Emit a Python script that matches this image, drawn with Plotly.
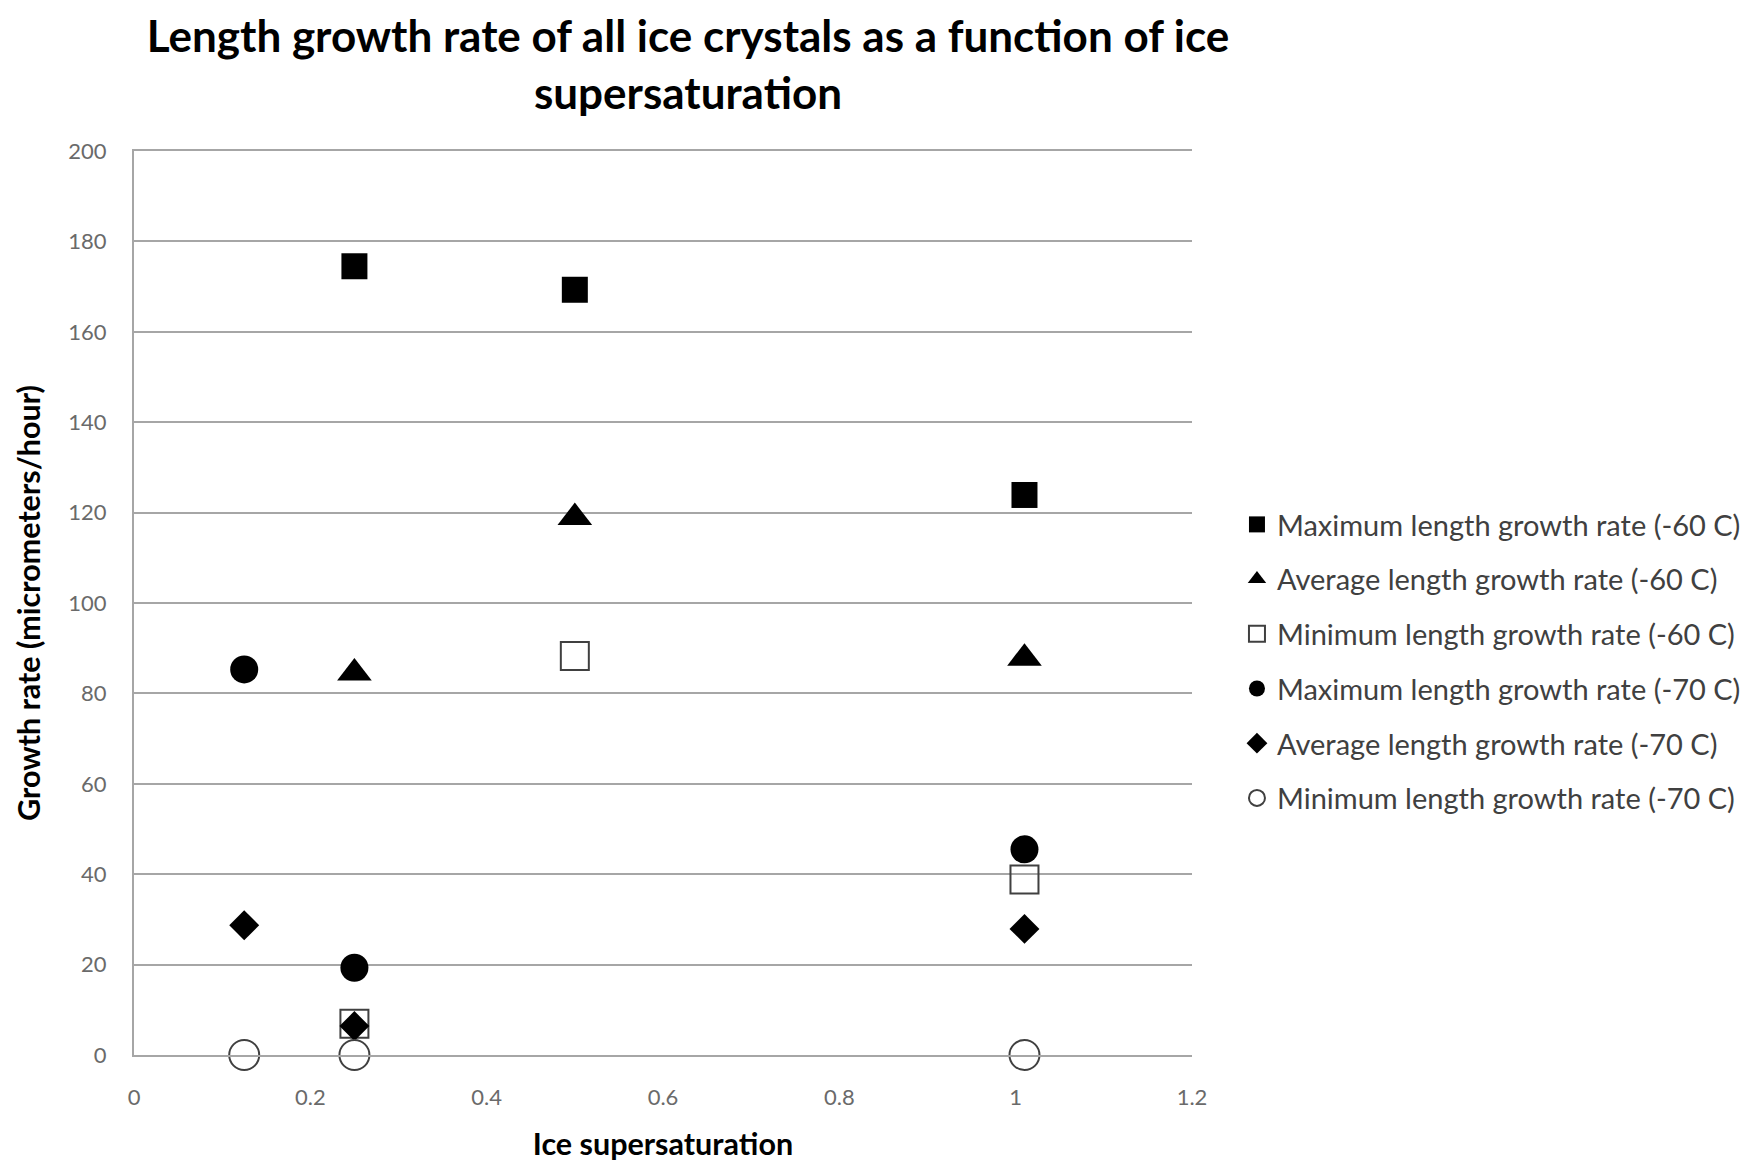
import plotly.graph_objects as go

# Data
x_max60 = [0.25, 0.5, 1.01]
y_max60 = [174.5, 169.3, 123.9]

x_avg60 = [0.25, 0.5, 1.01]
y_avg60 = [84.5, 118.9, 87.8]

x_min60 = [0.25, 0.5, 1.01]
y_min60 = [6.9, 88.3, 38.8]

x_max70 = [0.125, 0.25, 1.01]
y_max70 = [85.3, 19.3, 45.5]

x_avg70 = [0.125, 0.25, 1.01]
y_avg70 = [28.7, 6.4, 27.9]

x_min70 = [0.125, 0.25, 1.01]
y_min70 = [0, 0, 0]

names = [
    "Maximum length growth rate (-60 C)",
    "Average length growth rate (-60 C)",
    "Minimum length growth rate (-60 C)",
    "Maximum length growth rate (-70 C)",
    "Average length growth rate (-70 C)",
    "Minimum length growth rate (-70 C)",
]

x_ticks = [0, 0.2, 0.4, 0.6, 0.8, 1, 1.2]
x_ticktext = ["0", "0.2", "0.4", "0.6", "0.8", "1", "1.2"]
y_ticks = [0, 20, 40, 60, 80, 100, 120, 140, 160, 180, 200]

FONT = "Lato"
GRID = "#a6a6a6"
W, H = 1737, 1153  # page body adds an 8px margin

series = [
    (x_max60, y_max60, dict(symbol="square", size=26, color="black")),
    (x_avg60, y_avg60, dict(symbol="triangle-up", size=30, color="black")),
    (x_min60, y_min60, dict(symbol="square-open", size=28, color="#404040", line=dict(width=2, color="#404040"))),
    (x_max70, y_max70, dict(symbol="circle", size=28, color="black")),
    (x_avg70, y_avg70, dict(symbol="diamond", size=23, color="black")),
    (x_min70, y_min70, dict(symbol="circle-open", size=30, color="#404040", line=dict(width=2, color="#404040"))),
]

fig = go.Figure()
for i, (xs, ys, mk) in enumerate(series):
    fig.add_trace(go.Scatter(
        x=xs, y=ys, mode="markers", name=names[i], marker=mk,
        legendgroup=f"g{i}", cliponaxis=False,
    ))

fig.update_layout(
    width=W, height=H,
    paper_bgcolor="white", plot_bgcolor="white",
    margin=dict(l=126, r=553, t=143, b=106, autoexpand=False),
    font=dict(family=FONT, color="#404040"),
    title=dict(
        text="<b>Length growth rate of all ice crystals as a function of ice<br>supersaturation</b>",
        x=680 / W, xanchor="center",
        y=1 - 44 / H, yanchor="middle",
        font=dict(family=FONT, size=44, color="black"),
    ),
    showlegend=True,
    legend=dict(
        x=1.0425, xanchor="left", y=0.615, yanchor="top",
        font=dict(family=FONT, size=29, color="#404040"),
        tracegroupgap=14,
        bgcolor="rgba(0,0,0,0)",
    ),
    xaxis=dict(
        range=[0, 1.2], tickvals=x_ticks, ticktext=x_ticktext,
        showgrid=False, zeroline=False,
        showline=True, mirror=True, linecolor=GRID, linewidth=2,
        tickfont=dict(family=FONT, size=22, color="#6a6a6a"),
        ticks="", ticklabelstandoff=22, automargin=False,
        title=dict(text="<b>Ice supersaturation</b>", font=dict(family=FONT, size=30.5, color="black"), standoff=36),
    ),
    yaxis=dict(
        range=[0, 200], tickvals=y_ticks,
        showgrid=True, gridcolor=GRID, gridwidth=2,
        zeroline=False,
        showline=True, linecolor=GRID, linewidth=2,
        tickfont=dict(family=FONT, size=22, color="#6a6a6a"),
        ticks="", ticklabelstandoff=21, automargin=False,
        title=dict(text="<b>Growth rate (micrometers/hour)</b>", font=dict(family=FONT, size=30.5, color="black"), standoff=19),
    ),
)

fig.write_html("out.html")
